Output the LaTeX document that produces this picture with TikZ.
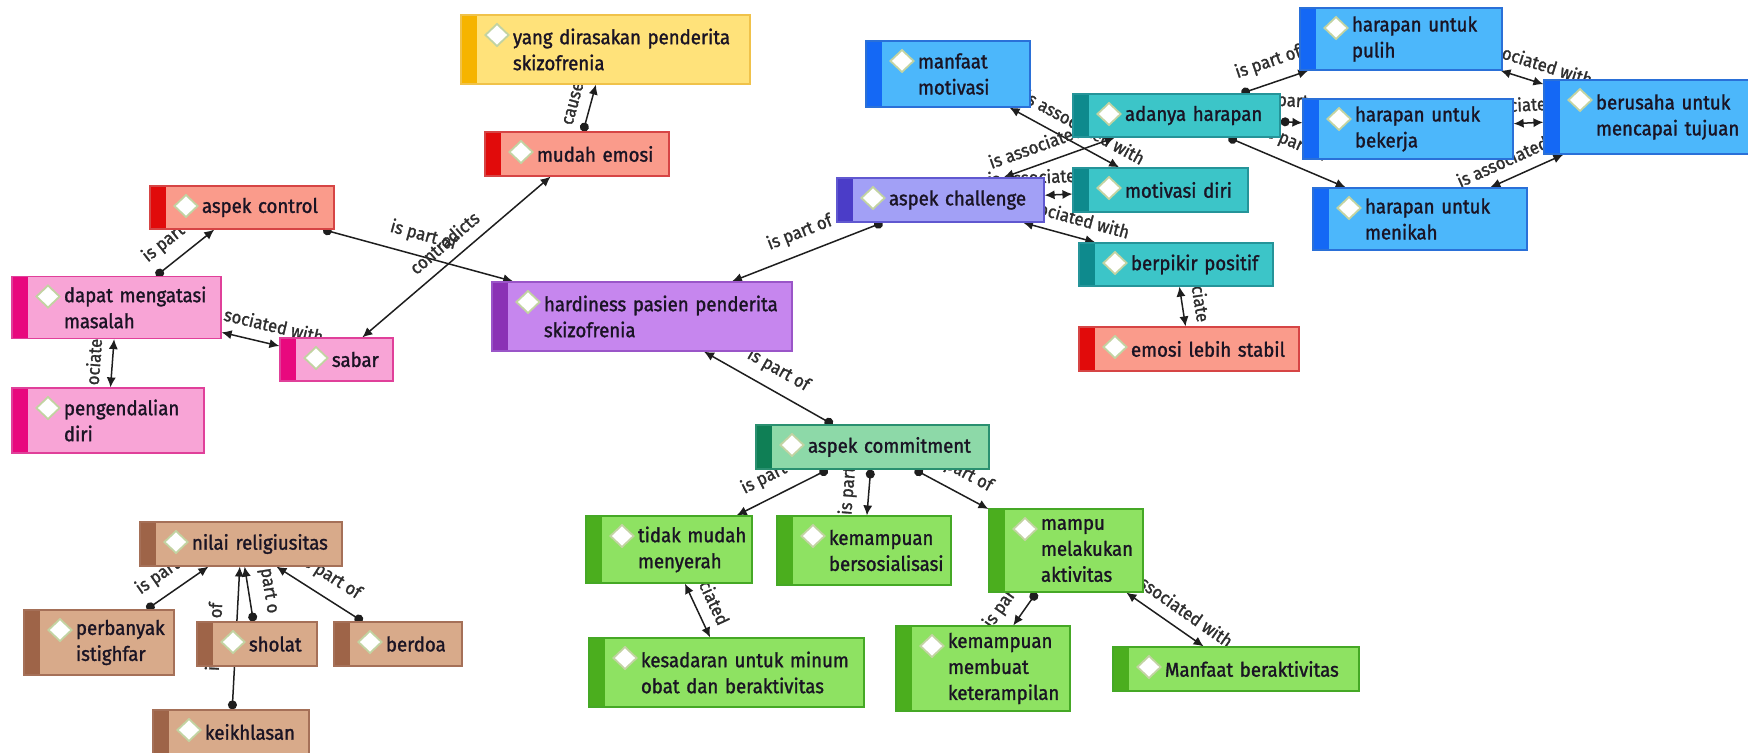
\documentclass[tikz,border=0pt]{standalone}
\usepackage{fontspec}
\setmainfont{Fira Sans}[FakeStretch=0.93, FakeBold=1.4]
\usetikzlibrary{arrows.meta}

\definecolor{yellowfill}{HTML}{FFE27A}
\definecolor{yellowbar}{HTML}{F6B400}
\definecolor{yellowline}{HTML}{F0C24A}
\definecolor{salmonfill}{HTML}{FA9B8B}
\definecolor{salmonbar}{HTML}{E10B0B}
\definecolor{salmonline}{HTML}{D64545}
\definecolor{pinkfill}{HTML}{F8A4D6}
\definecolor{pinkbar}{HTML}{E8097E}
\definecolor{pinkline}{HTML}{E0409A}
\definecolor{purplefill}{HTML}{C686EE}
\definecolor{purplebar}{HTML}{8B32B5}
\definecolor{purpleline}{HTML}{9A55C8}
\definecolor{lilacfill}{HTML}{A2A0F6}
\definecolor{lilacbar}{HTML}{4B3DC8}
\definecolor{lilacline}{HTML}{6058D0}
\definecolor{bluefill}{HTML}{4CB7FB}
\definecolor{bluebar}{HTML}{1468F5}
\definecolor{blueline}{HTML}{2A70D8}
\definecolor{tealfill}{HTML}{3CC5C8}
\definecolor{tealbar}{HTML}{0E8A8D}
\definecolor{tealline}{HTML}{259499}
\definecolor{greenfill}{HTML}{8EE262}
\definecolor{greenbar}{HTML}{4BAE1E}
\definecolor{greenline}{HTML}{45A825}
\definecolor{mintfill}{HTML}{8DD9A8}
\definecolor{mintbar}{HTML}{0F7F55}
\definecolor{mintline}{HTML}{2A9070}
\definecolor{brownfill}{HTML}{D8AA8A}
\definecolor{brownbar}{HTML}{9E6448}
\definecolor{brownline}{HTML}{A57058}
\definecolor{codetext}{HTML}{1A1424}
\definecolor{diamondline}{HTML}{C2D3A2}
\definecolor{linkcol}{HTML}{1E1E1E}
\definecolor{labelcol}{HTML}{2E2E2E}

\pgfdeclarelayer{links}
\pgfsetlayers{links,main}

\tikzset{
  code/.style n args={3}{rectangle, draw=#3, fill=#1, line width=.6pt,
    inner xsep=2pt, inner ysep=0pt, align=left, text=codetext,
    font=\fontsize{10}{13}\selectfont,
    execute at begin node={\leftskip=24pt\rightskip=0pt plus 1fil minus 30pt\relax},
    path picture={
      \fill[#2] (path picture bounding box.north west) rectangle ([xshift=8pt]path picture bounding box.south west);
      \draw[draw=diamondline, fill=white, line width=.9pt]
        ([xshift=18pt,yshift=-10pt]path picture bounding box.north west)
        +(-5.8pt,0) -- +(0,5.5pt) -- +(5.8pt,0) -- +(0,-5.5pt) -- cycle;
    }},
  boxsize/.style 2 args={minimum width=#1, text width=#1-4pt, minimum height=#2},
  yellowcode/.style={code={yellowfill}{yellowbar}{yellowline}},
  salmoncode/.style={code={salmonfill}{salmonbar}{salmonline}},
  pinkcode/.style={code={pinkfill}{pinkbar}{pinkline}},
  purplecode/.style={code={purplefill}{purplebar}{purpleline}},
  lilaccode/.style={code={lilacfill}{lilacbar}{lilacline}},
  bluecode/.style={code={bluefill}{bluebar}{blueline}},
  tealcode/.style={code={tealfill}{tealbar}{tealline}},
  greencode/.style={code={greenfill}{greenbar}{greenline}},
  mintcode/.style={code={mintfill}{mintbar}{mintline}},
  browncode/.style={code={brownfill}{brownbar}{brownline}},
  linkpart/.style={draw=linkcol, line width=.75pt,
    {Circle[length=4.5pt]}-{Latex[length=5pt,width=4.6pt]}},
  linkboth/.style={draw=linkcol, line width=.75pt,
    {Latex[length=5pt,width=4.6pt]}-{Latex[length=5pt,width=4.6pt]}},
  linklabel/.style={midway, sloped, above=4.5pt, inner sep=1pt, text=labelcol,
    font=\fontsize{9}{10}\selectfont},
}

\begin{document}
\begin{tikzpicture}[x=0.5pt, y=-0.5pt]
  \useasboundingbox (0,0) rectangle (1748,753);

  % control cluster
  \node[yellowcode, boxsize={144.5pt}{34.5pt}] (yang) at (605.5,49.5) {yang dirasakan penderita\\skizofrenia};
  \node[salmoncode, boxsize={92pt}{22pt}] (mudah) at (577,154) {mudah emosi};
  \node[salmoncode, boxsize={92pt}{21.5pt}] (control) at (242,207.5) {aspek control};
  \node[pinkcode, boxsize={104.5pt}{31pt}] (dapat) at (116.5,307.5) {dapat mengatasi\\masalah};
  \node[pinkcode, boxsize={56.5pt}{21.5pt}] (sabar) at (336.5,359.5) {sabar};
  \node[pinkcode, boxsize={96pt}{32.5pt}] (pengendalian) at (108,420.5) {pengendalian\\diri};
  \node[purplecode, boxsize={150pt}{34.5pt}] (hardiness) at (642,316.5) {hardiness pasien penderita\\skizofrenia};

  % challenge cluster
  \node[lilaccode, boxsize={103.5pt}{22pt}] (challenge) at (940.5,200) {aspek challenge};
  \node[bluecode, boxsize={82pt}{33pt}] (manfaatmotivasi) at (948,74) {manfaat\\motivasi};
  \node[tealcode, boxsize={103.5pt}{21.5pt}] (adanya) at (1176.5,115.5) {adanya harapan};
  \node[tealcode, boxsize={87.5pt}{22pt}] (motivasidiri) at (1160.5,190) {motivasi diri};
  \node[tealcode, boxsize={97pt}{21.5pt}] (berpikir) at (1176,264.5) {berpikir positif};
  \node[salmoncode, boxsize={110pt}{22pt}] (emosistabil) at (1189,349) {emosi lebih stabil};
  \node[bluecode, boxsize={101pt}{31pt}] (pulih) at (1401,39) {harapan untuk\\pulih};
  \node[bluecode, boxsize={105pt}{30pt}] (bekerja) at (1408,129) {harapan untuk\\bekerja};
  \node[bluecode, boxsize={103pt}{37pt}] (berusaha) at (1647,117) {berusaha untuk\\mencapai tujuan};
  \node[bluecode, boxsize={107pt}{31pt}] (menikah) at (1420,219) {harapan untuk\\menikah};

  % religiusitas cluster
  \node[browncode, boxsize={101pt}{22pt}] (nilai) at (241,544) {nilai religiusitas};
  \node[browncode, boxsize={75pt}{32.5pt}] (perbanyak) at (99,642.5) {perbanyak\\istighfar};
  \node[browncode, boxsize={60pt}{22pt}] (sholat) at (257,644) {sholat};
  \node[browncode, boxsize={64pt}{22pt}] (berdoa) at (398,644) {berdoa};
  \node[browncode, boxsize={78pt}{22pt}] (keikhlasan) at (231,732) {keikhlasan};

  % commitment cluster
  \node[mintcode, boxsize={116.5pt}{22pt}] (commitment) at (872.5,447) {aspek commitment};
  \node[greencode, boxsize={83pt}{33.5pt}] (tidakmudah) at (669,549.5) {tidak mudah\\menyerah};
  \node[greencode, boxsize={87pt}{34.5pt}] (kemsos) at (864,550.5) {kemampuan\\bersosialisasi};
  \node[greencode, boxsize={77pt}{41.5pt}] (mampu) at (1066,550.5) {mampu\\melakukan\\aktivitas};
  \node[greencode, boxsize={137.5pt}{34.5pt}] (kesadaran) at (726.5,672.5) {kesadaran untuk minum\\obat dan beraktivitas};
  \node[greencode, boxsize={87pt}{42.5pt}] (kemmembuat) at (983,668.5) {kemampuan\\membuat\\keterampilan};
  \node[greencode, boxsize={123pt}{22pt}] (manfaataktivitas) at (1236,669) {Manfaat beraktivitas};

  % links sit under the boxes, so parts of some labels are covered
  \begin{pgfonlayer}{links}
    \draw[linkpart] (mudah) -- node[linklabel] {cause} (yang);
    \draw[linkpart] (control) -- node[linklabel] {is part of} (hardiness);
    \draw[linkboth] (sabar) -- node[linklabel] {contradicts} (mudah);
    \draw[linkpart] (dapat) -- node[linklabel, pos=.35] {is part} (control);
    \draw[linkboth] (dapat) -- node[linklabel, pos=.83] {sociated with} (sabar);
    \draw[linkboth] (pengendalian) -- node[linklabel] {ociate} (dapat);
    \draw[linkpart] (challenge) -- node[linklabel] {is part of} (hardiness);
    \draw[linkpart] (commitment) -- node[linklabel] {is part of} (hardiness);
    \draw[linkboth] (manfaatmotivasi) -- node[linklabel, pos=.6] {is associated with} (motivasidiri);
    \draw[linkboth] (adanya) -- node[linklabel] {is associated with} (challenge);
    \draw[linkboth] (challenge) -- node[linklabel, pos=-.45] {is associate} (motivasidiri);
    \draw[linkboth] (challenge) -- node[linklabel] {is associated with} (berpikir);
    \draw[linkboth] (berpikir) -- node[linklabel] {ciate} (emosistabil);
    \draw[linkpart] (adanya) -- node[linklabel] {is part of} (pulih);
    \draw[linkpart] (adanya) -- node[linklabel] {part} (bekerja);
    \draw[linkpart] (adanya) -- node[linklabel] {is part of} (menikah);
    \draw[linkboth] (pulih) -- node[linklabel] {is associated with} (berusaha);
    \draw[linkboth] (bekerja) -- node[linklabel] {ciate} (berusaha);
    \draw[linkboth] (menikah) -- node[linklabel] {is associated with} (berusaha);
    \draw[linkpart] (commitment) -- node[linklabel] {is part of} (tidakmudah);
    \draw[linkpart] (commitment) -- node[linklabel] {is part} (kemsos);
    \draw[linkpart] (commitment) -- node[linklabel] {is part of} (mampu);
    \draw[linkboth] (tidakmudah) -- node[linklabel] {ciated} (kesadaran);
    \draw[linkboth] (mampu) -- node[linklabel] {is associated with} (manfaataktivitas);
    \draw[linkpart] (mampu) -- node[linklabel, pos=.86] {is par} (kemmembuat);
    \draw[linkpart] (perbanyak) -- node[linklabel] {is part of} (nilai);
    \draw[linkpart] (sholat) -- node[linklabel] {part o} (nilai);
    \draw[linkpart] (keikhlasan) -- node[linklabel] {is part of} (nilai);
    \draw[linkpart] (berdoa) -- node[linklabel] {is part of} (nilai);
  \end{pgfonlayer}
\end{tikzpicture}
\end{document}
